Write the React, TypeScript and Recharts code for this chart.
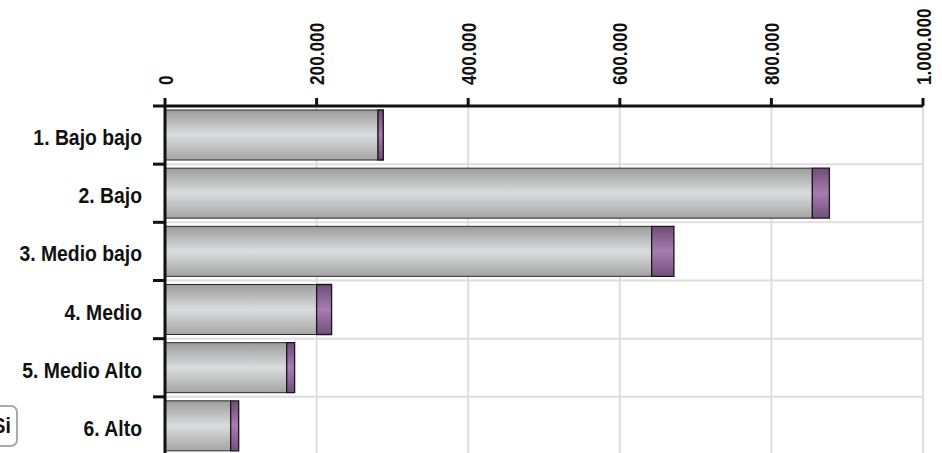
import React from 'react';
import { BarChart, Bar, XAxis, YAxis, CartesianGrid } from 'recharts';

const categories = ['1. Bajo bajo', '2. Bajo', '3. Medio bajo', '4. Medio', '5. Medio Alto', '6. Alto'];
const noValues = [281000, 854000, 642000, 200000, 160500, 86600];
const siValues = [7000, 22500, 29400, 19800, 10500, 10600];
const xTicks = [0, 200000, 400000, 600000, 800000, 1000000];
const legendLabels = ['Si'];

const data = categories.map((name, i) => ({ name, no: noValues[i], si: siValues[i] }));

const W = 942;
const H = 470;
const MARGIN = { top: 46, right: 19, bottom: 15, left: 0 };
const X_AXIS_H = 60;
const Y_AXIS_W = 165;
const PLOT_H = H - MARGIN.top - X_AXIS_H - MARGIN.bottom;
const HALF_BAND = PLOT_H / categories.length / 2;
const FONT = "'Liberation Sans', Arial, sans-serif";
const NARROW = 0.82;
const LABEL_NARROW = 0.88;

const fmt = (v: number) => String(v).replace(/\B(?=(\d{3})+(?!\d))/g, '.');

const XTick = (props: any) => {
  const { x, y, payload } = props;
  return (
    <g transform={`translate(${x},${y}) rotate(-90) scale(${NARROW},1)`}>
      <text x={0} y={0} dy="0.36em" textAnchor="start" fontFamily={FONT} fontSize={21} fontWeight="bold" fill="#111">
        {fmt(payload.value)}
      </text>
    </g>
  );
};

const YTick = (props: any) => {
  const { y, payload, index } = props;
  return (
    <g>
      <line x1={Y_AXIS_W - 12} x2={Y_AXIS_W} y1={y - HALF_BAND} y2={y - HALF_BAND} stroke="#111" strokeWidth={3} />
      {index === categories.length - 1 && (
        <line x1={Y_AXIS_W - 12} x2={Y_AXIS_W} y1={y + HALF_BAND} y2={y + HALF_BAND} stroke="#111" strokeWidth={3} />
      )}
      <g transform={`translate(${Y_AXIS_W - 23},${y + 2}) scale(${LABEL_NARROW},1)`}>
        <text x={0} y={0} dy="0.36em" textAnchor="end" fontFamily={FONT} fontSize={22} fontWeight="bold" fill="#111">
          {payload.value}
        </text>
      </g>
    </g>
  );
};

const hGen = ({ offset }: any) => {
  const step = offset.height / categories.length;
  return categories.map((_, i) => offset.top + step * (i + 1));
};

export default function App() {
  return (
    <div style={{ position: 'absolute', left: 0, top: 0, width: W, height: 453, overflow: 'hidden', background: '#fff' }}>
      <BarChart width={W} height={H} data={data} layout="vertical" margin={MARGIN}>
        <defs>
          <linearGradient id="gGray" x1="0" y1="0" x2="0" y2="1">
            <stop offset="0%" stopColor="#9c9c9c" />
            <stop offset="50%" stopColor="#dbdcdd" />
            <stop offset="100%" stopColor="#a4a4a4" />
          </linearGradient>
          <linearGradient id="gPurple" x1="0" y1="0" x2="0" y2="1">
            <stop offset="0%" stopColor="#6e4d75" />
            <stop offset="50%" stopColor="#a87cb2" />
            <stop offset="100%" stopColor="#71507a" />
          </linearGradient>
        </defs>
        <CartesianGrid stroke="#dedede" strokeWidth={2} horizontalCoordinatesGenerator={hGen} />
        <XAxis
          type="number"
          orientation="top"
          domain={[0, 1000000]}
          ticks={xTicks}
          height={X_AXIS_H}
          tick={<XTick />}
          tickSize={8}
          tickMargin={13}
          tickLine={{ stroke: '#111', strokeWidth: 3 }}
          axisLine={{ stroke: '#111', strokeWidth: 3 }}
          interval={0}
        />
        <YAxis
          type="category"
          dataKey="name"
          width={Y_AXIS_W}
          tick={<YTick />}
          tickLine={false}
          axisLine={{ stroke: '#111', strokeWidth: 3 }}
          interval={0}
        />
        <Bar dataKey="no" stackId="a" fill="url(#gGray)" stroke="#2b2b2b" strokeWidth={1} barSize={50} isAnimationActive={false} />
        <Bar dataKey="si" stackId="a" fill="url(#gPurple)" stroke="#1e1420" strokeWidth={1.3} barSize={50} isAnimationActive={false} />
      </BarChart>
      <div
        style={{
          position: 'absolute',
          left: -28,
          top: 405,
          width: 46,
          height: 42,
          boxSizing: 'border-box',
          border: '2px solid #a9a9a9',
          borderRadius: 7,
          textAlign: 'right',
          paddingRight: 5,
          lineHeight: '37px',
          fontFamily: FONT,
          fontSize: 22,
          fontWeight: 'bold',
          color: '#111',
        }}
      >
        <span style={{ display: 'inline-block', transform: `scaleX(${LABEL_NARROW})`, transformOrigin: 'right center' }}>
          {legendLabels[0]}
        </span>
      </div>
    </div>
  );
}
